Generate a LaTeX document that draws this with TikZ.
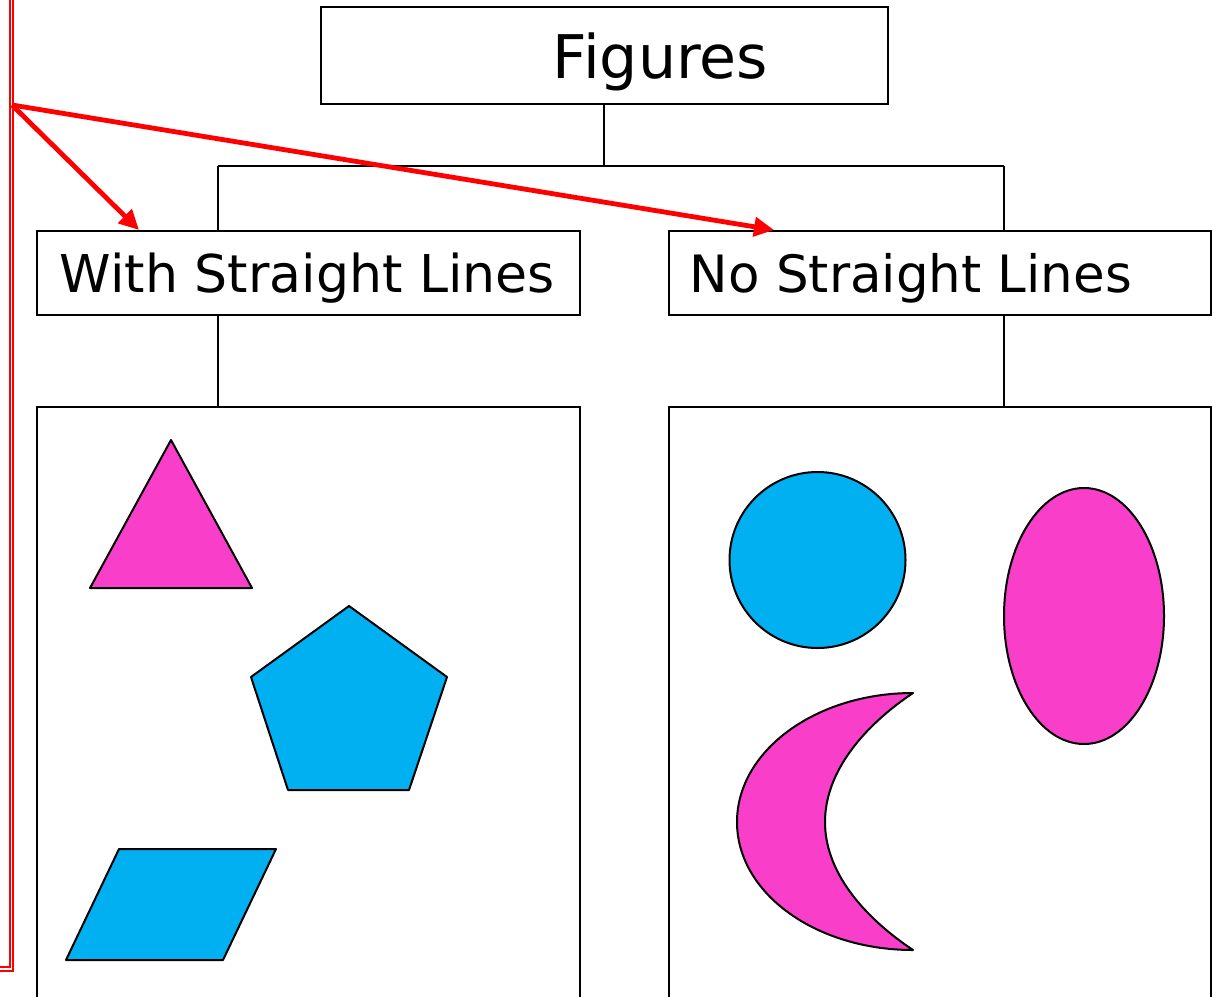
\documentclass[tikz,border=0pt]{standalone}
\usepackage{fontspec}
\setmainfont{DejaVu Sans}
\usetikzlibrary{arrows.meta}
\definecolor{mag}{HTML}{F93FC9}
\definecolor{cy}{HTML}{00B0F0}
\newcommand{\fitw}[2]{\resizebox{#1pt}{!}{#2}}
\begin{document}
\begin{tikzpicture}[x=1pt,y=-1pt,
  box/.style={draw=black, line width=2pt, inner sep=0pt},
  conn/.style={draw=black, line width=2pt},
  shapeline/.style={draw=black, line width=2pt, line join=round},
  redarrow/.style={draw=red, line width=4.8pt, -{Triangle[length=20pt,width=19pt]}},
  lbl/.style={anchor=base, inner sep=0pt}]
\useasboundingbox (0,0) rectangle (1214,996);
\clip (0,0) rectangle (1214,996);
% boxes
\node[box, minimum width=567pt, minimum height=97pt] (fig) at (604.5,55.5) {};
\node[box, minimum width=543pt, minimum height=84pt] (wsl) at (308.5,273) {};
\node[box, minimum width=542pt, minimum height=84pt] (nsl) at (940,273) {};
\node[box, minimum width=543pt, minimum height=603pt] (lbox) at (308.5,708.5) {};
\node[box, minimum width=542pt, minimum height=603pt] (rbox) at (940,708.5) {};
% labels
\node[lbl] (tfig) at (660.5,78) {\fitw{215}{Figures}};
\node[lbl] (twsl) at (307.5,292) {\fitw{495}{With Straight Lines}};
\node[lbl] (tnsl) at (911,292) {\fitw{442}{No Straight Lines}};
% tree connectors
\coordinate (jm) at (604,166);
\coordinate (jl) at (218,166);
\coordinate (jr) at (1004,166);
\draw[conn] (fig.south -| jm) -- (jm);
\draw[conn] (jl) -- (jr);
\draw[conn] (jl) -- (jl |- wsl.north);
\draw[conn] (jr) -- (jr |- nsl.north);
\draw[conn] (jl |- wsl.south) -- (jl |- lbox.north);
\draw[conn] (jr |- nsl.south) -- (jr |- rbox.north);
% red frame
\draw[red, double=white, double distance=1.8pt, line width=2pt] (-20,969) -- (11.5,969) -- (11.5,-20);
% red arrows
\coordinate (src) at (12,105);
\draw[redarrow] (src) -- ([xshift=103pt]wsl.north west);
\draw[redarrow] (src) -- ([xshift=106pt]nsl.north west);
% left shapes
\draw[shapeline, fill=mag] (171,440) -- (252,588) -- (90,588) -- cycle;
\draw[shapeline, fill=cy] (349,606) -- (447,677) -- (409,790) -- (288,790) -- (251,677) -- cycle;
\draw[shapeline, fill=cy] (119,849) -- (276,849) -- (223,960) -- (66,960) -- cycle;
% right shapes
\draw[shapeline, fill=cy] (817.5,560) circle[radius=88pt];
\draw[shapeline, fill=mag] (1084,616) ellipse[x radius=80pt, y radius=128pt];
\draw[shapeline, fill=mag] (913,693)
  .. controls (815.8,693) and (737,750.8) .. (737,822)
  .. controls (737,893.2) and (815.8,950) .. (913,950)
  .. controls (871,922) and (825,877) .. (825,822)
  .. controls (825,767) and (871,721) .. (913,693) -- cycle;
\end{tikzpicture}
\end{document}
